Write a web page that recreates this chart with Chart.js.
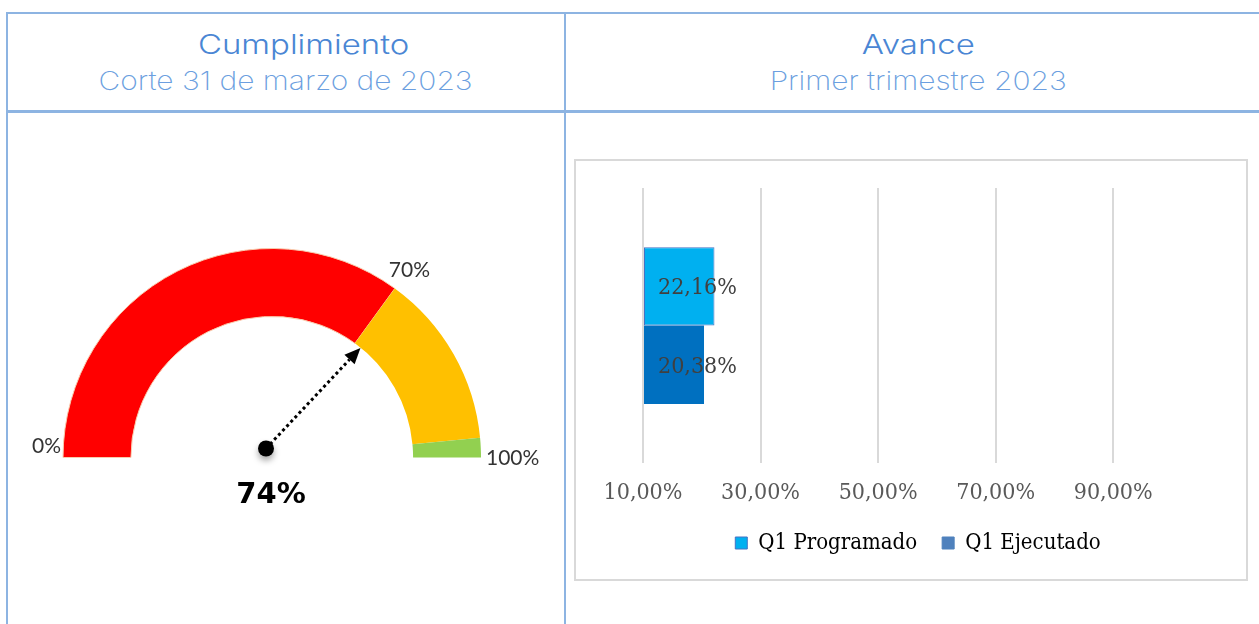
<!DOCTYPE html>
<html>
<head>
<meta charset="utf-8">
<script src="https://cdn.jsdelivr.net/npm/chart.js@4.4.0/dist/chart.umd.min.js"></script>
<style>
  html, body { margin: 0; padding: 0; background: #ffffff; }
  body { width: 1259px; height: 624px; position: relative; overflow: hidden; }
  .line { position: absolute; background: #8db4e2; }
  .hdr { position: absolute; text-align: center; font-family: "Inter", "Open Sans", sans-serif; white-space: nowrap; }
  .hdr span { display: inline-block; }
  .t1 { font-size: 27px; font-weight: 300; color: #4a86d4; }
  .t1 span { transform: scaleX(1.22); }
  .t2 { font-size: 26px; font-weight: 200; color: #6c9fe0; }
  .t2 span { transform: scaleX(1.15); }
  #gaugeWrap { position: absolute; left: 8px; top: 115px; width: 556px; height: 509px; }
  #barBox { position: absolute; left: 574px; top: 159px; width: 670px; height: 418px; border: 2px solid #d9d9d9; }
</style>
</head>
<body>
<div class="line" style="left:6px; top:12px; width:1253px; height:2px;"></div>
<div class="line" style="left:6px; top:110px; width:1253px; height:3px;"></div>
<div class="line" style="left:6px; top:12px; width:2px; height:612px;"></div>
<div class="line" style="left:564px; top:12px; width:2px; height:612px;"></div>

<div class="hdr t1" style="left:26px; width:556px; top:28px;"><span>Cumplimiento</span></div>
<div class="hdr t2" style="left:8px; width:556px; top:65px;"><span>Corte 31 de marzo de 2023</span></div>
<div class="hdr t1" style="left:566px; width:704px; top:28px;"><span>Avance</span></div>
<div class="hdr t2" style="left:566px; width:704px; top:65px;"><span>Primer trimestre 2023</span></div>

<div id="gaugeWrap"><canvas id="gauge" width="556" height="509"></canvas></div>
<div id="barBox"><canvas id="bars" width="670" height="418"></canvas></div>

<script>
// ---------- Gauge data ----------
const gaugeBandNames = ['Bajo', 'Medio', 'Alto'];
const gaugeBands = [70, 27, 3];
const gaugeColors = ['#ff0000', '#ffc000', '#92d050'];
const gaugeTickValues = [0, 70, 100];
const gaugeTickLabels = ['0%', '70%', '100%'];
const gaugeValue = 74;
const gaugeValueLabel = '74%';

// ---------- Bar data ----------
const barCategories = ['Q1'];
const seriesNames = ['Q1 Programado', 'Q1 Ejecutado'];
const programado = [22.16];
const ejecutado = [20.38];
const xTickValues = [10, 30, 50, 70, 90];
const xMin = 10, xMax = 100;

const fmtPct = v => v.toFixed(2).replace('.', ',') + '%';

// ---------- Gauge chart ----------
const gaugePlugin = {
  id: 'gaugeDecor',
  afterDatasetsDraw(chart) {
    const ctx = chart.ctx;
    const arc = chart.getDatasetMeta(0).data[0];
    const cx = arc.x, cy = arc.y, R = arc.outerRadius;
    const ang = v => Math.PI + (v / 100) * Math.PI;
    ctx.save();
    ctx.fillStyle = '#333333';
    ctx.font = '21px Lato, "Liberation Sans", sans-serif';
    ctx.textBaseline = 'middle';
    // 0%
    ctx.textAlign = 'right';
    ctx.fillText(gaugeTickLabels[0], cx + R * Math.cos(ang(gaugeTickValues[0])) - 2, cy - 11);
    // 70%
    ctx.textAlign = 'left';
    const a70 = ang(gaugeTickValues[1]);
    ctx.fillText(gaugeTickLabels[1], cx + R * Math.cos(a70) - 6, cy + R * Math.sin(a70) - 18);
    // 100%
    ctx.fillText(gaugeTickLabels[2], cx + R * Math.cos(ang(gaugeTickValues[2])) + 5, cy + 1);

    // needle
    const px = cx - 6, py = cy - 9;
    const a = ang(gaugeValue);
    const L = 138;
    const tx = px + L * Math.cos(a), ty = py + L * Math.sin(a);
    const hl = 16, hw = 7;
    const bx = tx - hl * Math.cos(a), by = ty - hl * Math.sin(a);
    ctx.strokeStyle = '#000';
    ctx.lineWidth = 3;
    ctx.setLineDash([3, 3]);
    ctx.beginPath();
    ctx.moveTo(px, py);
    ctx.lineTo(bx, by);
    ctx.stroke();
    ctx.setLineDash([]);
    ctx.fillStyle = '#000';
    ctx.beginPath();
    ctx.moveTo(tx, ty);
    ctx.lineTo(bx - hw * Math.sin(a), by + hw * Math.cos(a));
    ctx.lineTo(bx + hw * Math.sin(a), by - hw * Math.cos(a));
    ctx.closePath();
    ctx.fill();
    ctx.shadowColor = 'rgba(0,0,0,0.35)';
    ctx.shadowBlur = 6;
    ctx.shadowOffsetY = 4;
    ctx.beginPath();
    ctx.arc(px, py, 8, 0, Math.PI * 2);
    ctx.fill();
    ctx.shadowColor = 'transparent';

    // value label
    ctx.fillStyle = '#000';
    ctx.font = 'bold 29px "DejaVu Sans", Verdana, sans-serif';
    ctx.textAlign = 'center';
    ctx.fillText(gaugeValueLabel, px + 5, cy + 38);
    ctx.restore();
  }
};

new Chart(document.getElementById('gauge'), {
  type: 'doughnut',
  data: {
    labels: gaugeBandNames,
    datasets: [{
      data: gaugeBands,
      backgroundColor: gaugeColors,
      borderColor: ['#f8cbad', 'rgba(0,0,0,0)', 'rgba(0,0,0,0)'],
      borderWidth: [1, 0, 0]
    }]
  },
  options: {
    responsive: false,
    animation: false,
    rotation: -90,
    circumference: 180,
    cutout: '67.5%',
    layout: { padding: { left: 54, right: 82, top: 133, bottom: 166 } },
    plugins: { legend: { display: false }, tooltip: { enabled: false } }
  },
  plugins: [gaugePlugin]
});

// ---------- Bar chart ----------
const serif = '"DejaVu Serif Condensed", "Liberation Serif", serif';
const barLabelPlugin = {
  id: 'barLabels',
  afterDatasetsDraw(chart) {
    const ctx = chart.ctx;
    const xs = chart.scales.x;
    ctx.save();
    ctx.fillStyle = '#404040';
    ctx.font = '23px ' + serif;
    ctx.textAlign = 'left';
    ctx.textBaseline = 'middle';
    chart.data.datasets.forEach((ds, i) => {
      chart.getDatasetMeta(i).data.forEach((bar, j) => {
        ctx.fillText(fmtPct(ds.data[j]), xs.getPixelForValue(xMin) + 15, bar.y + 2);
      });
    });
    ctx.restore();
  }
};

new Chart(document.getElementById('bars'), {
  type: 'bar',
  data: {
    labels: barCategories,
    datasets: [
      { label: seriesNames[0], data: programado, base: xMin, backgroundColor: '#00b0f0', borderColor: '#4472c4', borderWidth: 1, borderSkipped: false, categoryPercentage: 0.57, barPercentage: 1 },
      { label: seriesNames[1], data: ejecutado, base: xMin, backgroundColor: '#0070c0', borderWidth: 0, categoryPercentage: 0.57, barPercentage: 1 }
    ]
  },
  options: {
    responsive: false,
    animation: false,
    indexAxis: 'y',
    layout: { padding: { left: 67, right: 53, top: 27, bottom: 15 } },
    scales: {
      x: {
        min: xMin, max: xMax,
        afterBuildTicks: s => { s.ticks = xTickValues.map(v => ({ value: v })); },
        afterFit: s => { s.height = 44; },
        grid: { color: '#d9d9d9', lineWidth: 2, drawTicks: false },
        border: { display: false },
        ticks: { padding: 16, color: '#595959', font: { family: serif, size: 23 }, callback: v => fmtPct(v) }
      },
      y: { display: false },
      ySpacer: {
        type: 'category', position: 'right', display: true,
        grid: { display: false, drawTicks: false }, border: { display: false },
        ticks: { display: false },
        afterFit: s => { s.width = 21; }
      }
    },
    plugins: {
      tooltip: { enabled: false },
      legend: {
        position: 'bottom',
        labels: {
          color: '#404040',
          font: { family: serif, size: 22 },
          boxWidth: 12, boxHeight: 12,
          padding: 25,
          generateLabels: chart => seriesNames.map((n, i) => ({
            text: n,
            fillStyle: i === 0 ? '#00b0f0' : '#4f81bd',
            strokeStyle: i === 0 ? '#4472c4' : '#4f81bd',
            lineWidth: 1,
            datasetIndex: i
          }))
        }
      }
    }
  },
  plugins: [barLabelPlugin]
});
</script>
</body>
</html>
